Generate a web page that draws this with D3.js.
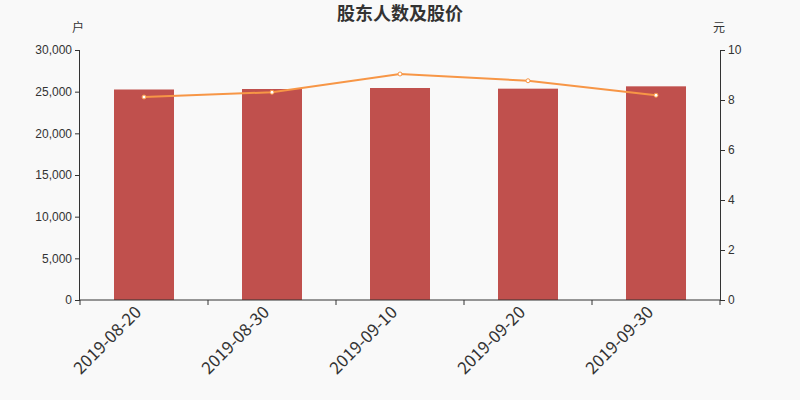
<!DOCTYPE html>
<html>
<head>
<meta charset="utf-8">
<script src="https://cdn.jsdelivr.net/npm/d3@7/dist/d3.min.js"></script>
<style>
  body { margin: 0; background: #f9f9f9; }
  svg { display: block; font-family: "Noto Sans CJK SC", "Noto Sans", sans-serif; }
  .axis text { fill: #333; font-size: 12px; }
  .axis path, .axis line { stroke: #333; }
</style>
</head>
<body>
<div id="chart"></div>
<script>
// data
const dates = ["2019-08-20", "2019-08-30", "2019-09-10", "2019-09-20", "2019-09-30"];
const holders = [25260, 25320, 25440, 25360, 25640];   // 户
const prices = [8.12, 8.31, 9.04, 8.77, 8.19];         // 元
const leftTicks = [0, 5000, 10000, 15000, 20000, 25000, 30000];
const rightTicks = [0, 2, 4, 6, 8, 10];

const width = 800, height = 400;
const margin = {top: 50, right: 80, bottom: 100, left: 80};
const innerW = width - margin.left - margin.right;
const innerH = height - margin.top - margin.bottom;

const svg = d3.select("#chart").append("svg")
    .attr("width", width)
    .attr("height", height);

svg.append("rect").attr("width", width).attr("height", height).attr("fill", "#f9f9f9");

const g = svg.append("g")
    .attr("transform", "translate(" + margin.left + "," + margin.top + ")");

const x = d3.scaleBand().domain(dates).range([0, innerW]);
const yLeft = d3.scaleLinear().domain([0, 30000]).range([innerH, 0]);
const yRight = d3.scaleLinear().domain([0, 10]).range([innerH, 0]);

// bars
const barW = 60;
g.selectAll(".bar")
    .data(holders)
    .enter().append("rect")
    .attr("class", "bar")
    .attr("x", (d, i) => x(dates[i]) + (x.bandwidth() - barW) / 2)
    .attr("y", d => yLeft(d))
    .attr("width", barW)
    .attr("height", d => innerH - yLeft(d))
    .attr("fill", "#c0504d");

// left axis
g.append("g")
    .attr("class", "axis")
    .call(d3.axisLeft(yLeft).tickValues(leftTicks).tickSize(5).tickPadding(3).tickFormat(d3.format(",")))
    .call(a => a.select(".domain").attr("d", "M-0.5," + innerH + "V0.5H-5"));

// right axis
g.append("g")
    .attr("class", "axis")
    .attr("transform", "translate(" + innerW + ",0)")
    .call(d3.axisRight(yRight).tickValues(rightTicks).tickSize(5).tickPadding(3));

// x axis with ticks at band edges
const xAxis = g.append("g")
    .attr("class", "axis")
    .attr("transform", "translate(0," + innerH + ")");
xAxis.append("line")
    .attr("x1", 0).attr("x2", innerW)
    .attr("stroke", "#333");
const edges = dates.map(d => x(d)).concat([innerW]);
xAxis.selectAll(".edge")
    .data(edges)
    .enter().append("line")
    .attr("x1", d => d).attr("x2", d => d)
    .attr("y1", 0).attr("y2", 5)
    .attr("stroke", "#333");
xAxis.selectAll(".lbl")
    .data(dates)
    .enter().append("text")
    .attr("transform", d => "translate(" + (x(d) + x.bandwidth() / 2 - 10) + ",5) rotate(-45)")
    .attr("text-anchor", "end")
    .attr("dy", "0.7em")
    .style("font-size", "17px")
    .attr("fill", "#333")
    .text(d => d);

// price line
const line = d3.line()
    .x((d, i) => x(dates[i]) + x.bandwidth() / 2)
    .y(d => yRight(d));
g.append("path")
    .datum(prices)
    .attr("fill", "none")
    .attr("stroke", "#f79646")
    .attr("stroke-width", 2)
    .attr("d", line);
g.selectAll(".pt")
    .data(prices)
    .enter().append("circle")
    .attr("cx", (d, i) => x(dates[i]) + x.bandwidth() / 2)
    .attr("cy", d => yRight(d))
    .attr("r", 2)
    .attr("fill", "#fff")
    .attr("stroke", "#f79646")
    .attr("stroke-width", 1);

// title and units
svg.append("text")
    .attr("x", width / 2).attr("y", 20)
    .attr("text-anchor", "middle")
    .style("font-size", "18px")
    .style("font-weight", "bold")
    .attr("fill", "#333")
    .text("股东人数及股价");
svg.append("text")
    .attr("x", 78).attr("y", 32)
    .attr("text-anchor", "middle")
    .style("font-size", "12px")
    .attr("fill", "#333")
    .text("户");
svg.append("text")
    .attr("x", 719).attr("y", 32)
    .attr("text-anchor", "middle")
    .style("font-size", "12px")
    .attr("fill", "#333")
    .text("元");
</script>
</body>
</html>
